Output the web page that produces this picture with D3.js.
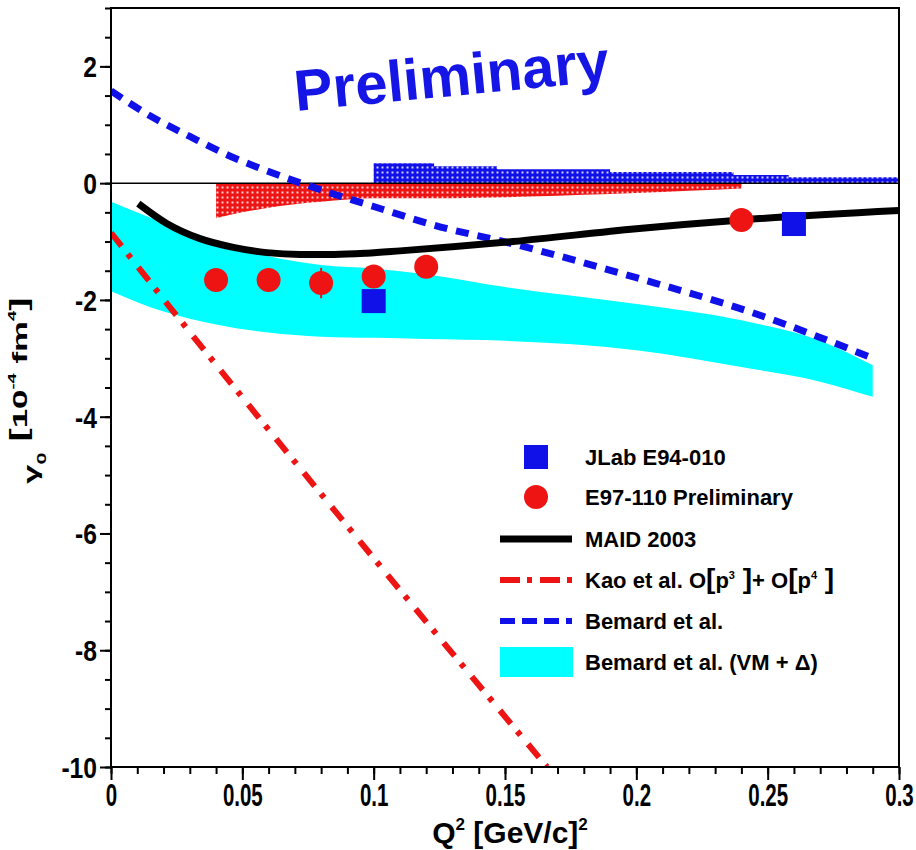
<!DOCTYPE html>
<html>
<head>
<meta charset="utf-8">
<script src="https://cdn.jsdelivr.net/npm/d3@7"></script>
<style>
  body { margin: 0; background: #fff; }
  text { font-family: "Liberation Sans", Arial, sans-serif; font-weight: bold; }
</style>
</head>
<body>
<svg id="chart" width="916" height="850"></svg>
<script>
// ---- data ----
const xMajor = [0, 0.05, 0.1, 0.15, 0.2, 0.25, 0.3]
const xMajorLabels = ['0', '0.05', '0.1', '0.15', '0.2', '0.25', '0.3']
const yMajor = [-10, -8, -6, -4, -2, 0, 2]
const yMajorLabels = ['-10', '-8', '-6', '-4', '-2', '0', '2']

// JLab E94-010 (blue squares)
const jlabX = [0.1, 0.26]
const jlabY = [-2.02, -0.70]

// E97-110 preliminary (red circles)
const e97X = [0.04, 0.06, 0.08, 0.1, 0.12, 0.24]
const e97Y = [-1.66, -1.66, -1.71, -1.60, -1.43, -0.63]
const e97Err = [0.12, 0.12, 0.26, 0.12, 0.12, 0.1]

// MAID 2003
const maidX = [0.0104, 0.0212, 0.0339, 0.0466, 0.0593, 0.072, 0.085, 0.0973, 0.11, 0.153, 0.2, 0.24, 0.3]
const maidY = [-0.35, -0.69, -0.95, -1.10, -1.19, -1.22, -1.22, -1.20, -1.16, -1.0, -0.78, -0.63, -0.47]

// Kao et al. O(p3)+O(p4)
const kaoX = [0, 0.022, 0.085, 0.166]
const kaoY = [-0.85, -2.1, -5.6, -10.0]

// Bernard et al.
const bernX = [0, 0.015, 0.03, 0.045, 0.06, 0.085, 0.1, 0.123, 0.153, 0.2, 0.243, 0.289]
const bernY = [1.58, 1.15, 0.80, 0.47, 0.20, -0.19, -0.40, -0.72, -1.04, -1.62, -2.2, -2.98]

// Bernard et al. (VM + Delta) band
const bandX = [0, 0.02, 0.04, 0.06, 0.08, 0.1, 0.12, 0.15, 0.2, 0.24, 0.27, 0.29]
const bandHi = [-0.32, -0.68, -1.0, -1.25, -1.4, -1.46, -1.56, -1.78, -2.07, -2.35, -2.7, -3.12]
const bandLo = [-1.85, -2.2, -2.42, -2.56, -2.63, -2.65, -2.67, -2.7, -2.86, -3.15, -3.4, -3.66]

// systematic error bands (hatched)
const sysRedX = [0.04, 0.05, 0.06, 0.07, 0.08, 0.09, 0.1, 0.12, 0.14, 0.16, 0.18, 0.2, 0.22, 0.24]
const sysRedLo = [-0.6, -0.5, -0.42, -0.36, -0.32, -0.28, -0.26, -0.26, -0.25, -0.23, -0.2, -0.17, -0.13, -0.09]
const sysBlueX = [0.1, 0.123, 0.147, 0.19, 0.237, 0.258, 0.3]
const sysBlueHi = [0.34, 0.29, 0.24, 0.19, 0.14, 0.1, 0.1]

const RED = '#ee1414'
const BLUE = '#1010e8'
const CYAN = '#00ffff'

let dimensions = { left: 111, right: 899, top: 8, bottom: 767 }

let svg = d3.select('#chart')

let xScale = d3.scaleLinear().domain([0, 0.3]).range([dimensions.left, dimensions.right])
let yScale = d3.scaleLinear().domain([-10, 3]).range([dimensions.bottom, dimensions.top])

let defs = svg.append('defs')
defs.append('clipPath').attr('id', 'plotclip')
  .append('rect')
  .attr('x', dimensions.left).attr('y', dimensions.top)
  .attr('width', dimensions.right - dimensions.left)
  .attr('height', dimensions.bottom - dimensions.top)

let makePattern = (id, color) => {
  let p = defs.append('pattern').attr('id', id)
    .attr('width', 5).attr('height', 5)
    .attr('patternUnits', 'userSpaceOnUse')
  p.append('rect').attr('width', 5).attr('height', 5).attr('fill', color)
  p.append('rect').attr('x', 1.5).attr('y', 1.5).attr('width', 2).attr('height', 2)
    .attr('fill', '#fff').attr('opacity', 0.8)
}
makePattern('hatchRed', RED)
makePattern('hatchBlue', BLUE)

let plot = svg.append('g').attr('clip-path', 'url(#plotclip)')

// cyan band
let bandArea = d3.area()
  .x((d, i) => xScale(bandX[i]))
  .y0((d, i) => yScale(bandLo[i]))
  .y1((d, i) => yScale(bandHi[i]))
  .curve(d3.curveMonotoneX)
plot.append('path').attr('d', bandArea(bandX)).attr('fill', CYAN)

// hatched systematic bands
let redArea = d3.area()
  .x((d, i) => xScale(sysRedX[i]))
  .y0(yScale(0))
  .y1((d, i) => yScale(sysRedLo[i]))
  .curve(d3.curveMonotoneX)
plot.append('path').attr('d', redArea(sysRedX)).attr('fill', 'url(#hatchRed)')

let blueArea = d3.area()
  .x((d, i) => xScale(sysBlueX[i]))
  .y0(yScale(0))
  .y1((d, i) => yScale(sysBlueHi[i]))
  .curve(d3.curveStepAfter)
plot.append('path').attr('d', blueArea(sysBlueX)).attr('fill', 'url(#hatchBlue)')

// zero line
plot.append('line')
  .attr('x1', dimensions.left).attr('x2', dimensions.right)
  .attr('y1', yScale(0)).attr('y2', yScale(0))
  .attr('stroke', '#000').attr('stroke-width', 1.5)

let lineGen = (xs, ys) => d3.line()
  .x((d, i) => xScale(xs[i]))
  .y((d, i) => yScale(ys[i]))
  .curve(d3.curveMonotoneX)(xs)

// Kao
plot.append('path').attr('d', lineGen(kaoX, kaoY))
  .attr('fill', 'none').attr('stroke', RED).attr('stroke-width', 6)
  .attr('stroke-dasharray', '17 10 5 12')

// Bernard dashed
plot.append('path').attr('d', lineGen(bernX, bernY))
  .attr('fill', 'none').attr('stroke', BLUE).attr('stroke-width', 7)
  .attr('stroke-dasharray', '13 9')

// MAID
plot.append('path').attr('d', lineGen(maidX, maidY))
  .attr('fill', 'none').attr('stroke', '#000').attr('stroke-width', 7)

// E97-110 points
plot.selectAll('.err').data(e97X).enter().append('line')
  .attr('x1', d => xScale(d)).attr('x2', d => xScale(d))
  .attr('y1', (d, i) => yScale(e97Y[i] + e97Err[i]))
  .attr('y2', (d, i) => yScale(e97Y[i] - e97Err[i]))
  .attr('stroke', RED).attr('stroke-width', 2)
plot.selectAll('.circ').data(e97X).enter().append('circle')
  .attr('cx', d => xScale(d))
  .attr('cy', (d, i) => yScale(e97Y[i]))
  .attr('r', 12)
  .attr('fill', RED)

// JLab squares
plot.selectAll('.sq').data(jlabX).enter().append('rect')
  .attr('x', d => xScale(d) - 12)
  .attr('y', (d, i) => yScale(jlabY[i]) - 12)
  .attr('width', 24).attr('height', 24)
  .attr('fill', BLUE)

// axes
let xAxisMinor = d3.axisBottom(xScale).tickValues(d3.range(0, 0.3001, 0.01)).tickSize(7).tickFormat('')
let xAxisMajor = d3.axisBottom(xScale).tickValues(xMajor).tickSize(13)
  .tickFormat((d, i) => xMajorLabels[i]).tickPadding(3)
let yAxisMinor = d3.axisLeft(yScale).tickValues(d3.range(-10, 3.001, 0.5)).tickSize(6).tickFormat('')
let yAxisMajor = d3.axisLeft(yScale).tickValues(yMajor).tickSize(11).tickPadding(4)
  .tickFormat((d, i) => yMajorLabels[i])

let gx1 = svg.append('g').attr('transform', `translate(0,${dimensions.bottom})`).call(xAxisMinor)
let gx2 = svg.append('g').attr('transform', `translate(0,${dimensions.bottom})`).call(xAxisMajor)
let gy1 = svg.append('g').attr('transform', `translate(${dimensions.left},0)`).call(yAxisMinor)
let gy2 = svg.append('g').attr('transform', `translate(${dimensions.left},0)`).call(yAxisMajor)

;[gx1, gx2, gy1, gy2].forEach(g => {
  g.select('.domain').remove()
  g.selectAll('line').attr('stroke', '#000').attr('stroke-width', 2)
})
gx2.selectAll('text')
  .attr('fill', '#000').style('font-size', '32px')
  .attr('transform', 'scale(0.64,1)')
gy2.selectAll('text')
  .attr('fill', '#000').style('font-size', '29px')
  .attr('x', -14 / 0.85)
  .attr('dy', '0.36em')
  .attr('transform', 'scale(0.85,1)')

// frame
svg.append('rect')
  .attr('x', dimensions.left).attr('y', dimensions.top)
  .attr('width', dimensions.right - dimensions.left)
  .attr('height', dimensions.bottom - dimensions.top)
  .attr('fill', 'none').attr('stroke', '#000').attr('stroke-width', 2)

// Preliminary stamp
svg.append('text')
  .attr('transform', 'translate(296,111) rotate(-5.5)')
  .attr('fill', '#1515e6')
  .style('font-size', '58px')
  .text('Preliminary')

// x axis title
let xt = svg.append('text')
  .attr('x', 510).attr('y', 843)
  .attr('text-anchor', 'middle')
  .style('font-size', '30px')
xt.append('tspan').text('Q')
xt.append('tspan').attr('dy', -13).style('font-size', '17px').text('2')
xt.append('tspan').attr('dy', 13).text(' [GeV/c]')
xt.append('tspan').attr('dy', -13).style('font-size', '17px').text('2')

// y axis title (stretched along its reading direction like the original)
let yt = svg.append('text')
  .attr('transform', 'translate(27,484) rotate(-90) scale(1.66,1)')
  .style('font-size', '21px')
yt.append('tspan').attr('dy', 11).text('γ')
yt.append('tspan').attr('dy', 8).style('font-size', '13px').text('0')
yt.append('tspan').attr('dy', -19).style('font-size', '24px').style('font-weight', 900).text(' [')
yt.append('tspan').text('10')
yt.append('tspan').attr('dy', -11).style('font-size', '11px').text('-4')
yt.append('tspan').attr('dy', 11).text(' fm')
yt.append('tspan').attr('dy', -11).style('font-size', '11px').text('4')
yt.append('tspan').attr('dy', 11).style('font-size', '24px').style('font-weight', 900).text(']')

// legend
const legendLabels = ['JLab E94-010', 'E97-110 Preliminary', 'MAID 2003', '', 'Bemard et al.', 'Bemard et al. (VM + Δ)']
const legendY = [457, 497, 539, 580, 621, 662]
let leg = svg.append('g')
leg.append('rect').attr('x', 524).attr('y', legendY[0] - 12).attr('width', 24).attr('height', 24).attr('fill', BLUE)
leg.append('circle').attr('cx', 536).attr('cy', legendY[1]).attr('r', 12).attr('fill', RED)
leg.append('line').attr('x1', 500).attr('x2', 572).attr('y1', legendY[2]).attr('y2', legendY[2])
  .attr('stroke', '#000').attr('stroke-width', 7)
leg.append('line').attr('x1', 500).attr('x2', 572).attr('y1', legendY[3]).attr('y2', legendY[3])
  .attr('stroke', RED).attr('stroke-width', 6).attr('stroke-dasharray', '20 7 5 8')
leg.append('line').attr('x1', 500).attr('x2', 572).attr('y1', legendY[4]).attr('y2', legendY[4])
  .attr('stroke', BLUE).attr('stroke-width', 6).attr('stroke-dasharray', '15 7')
leg.append('rect').attr('x', 500).attr('y', legendY[5] - 15).attr('width', 73).attr('height', 30).attr('fill', CYAN)

legendLabels.forEach((t, i) => {
  if (!t) return
  leg.append('text').attr('x', 585).attr('y', legendY[i] + 8)
    .style('font-size', '22px').text(t)
})
let kao = leg.append('text').attr('x', 585).attr('y', legendY[3] + 8).style('font-size', '22px')
kao.append('tspan').text('Kao et al. O')
kao.append('tspan').style('font-size', '28px').style('font-weight', 900).text('[')
kao.append('tspan').text('p')
kao.append('tspan').attr('dy', -9).style('font-size', '11px').text('3')
kao.append('tspan').attr('dy', 9).style('font-size', '28px').style('font-weight', 900).text(' ]')
kao.append('tspan').text('+ O')
kao.append('tspan').style('font-size', '28px').style('font-weight', 900).text('[')
kao.append('tspan').text('p')
kao.append('tspan').attr('dy', -9).style('font-size', '11px').text('4')
kao.append('tspan').attr('dy', 9).style('font-size', '28px').style('font-weight', 900).text(' ]')
</script>
</body>
</html>
